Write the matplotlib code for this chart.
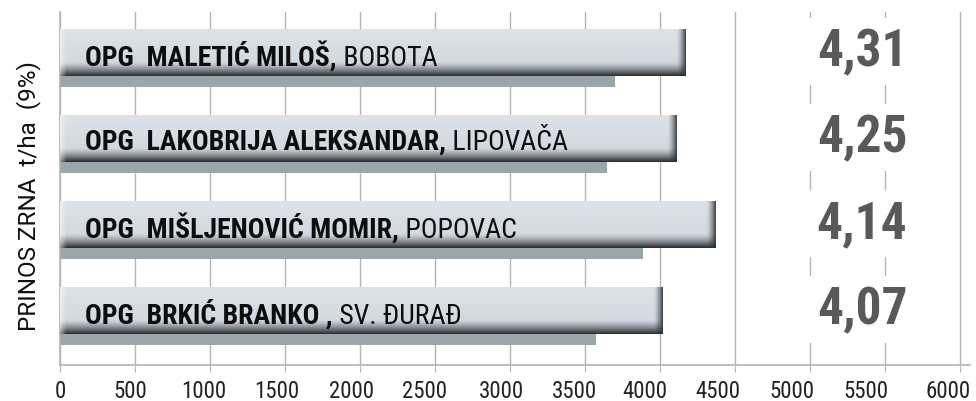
import numpy as np
import matplotlib.pyplot as plt
from matplotlib.colors import to_rgb

# podaci
farms_bold = ['OPG  MALETIĆ MILOŠ,', 'OPG  LAKOBRIJA ALEKSANDAR,',
              'OPG  MIŠLJENOVIĆ MOMIR,', 'OPG  BRKIĆ BRANKO ,']
places = ['BOBOTA', 'LIPOVAČA', 'POPOVAC', 'SV. ĐURAĐ']
main_vals = [4167, 4107, 4373, 4020]
second_vals = [3700, 3647, 3887, 3573]
yields = ['4,31', '4,25', '4,14', '4,07']
xticks = [0, 500, 1000, 1500, 2000, 2500, 3000, 3500, 4000, 4500, 5000, 5500, 6000]

FONT = ['Roboto Condensed', 'Fira Sans Condensed', 'Liberation Sans', 'DejaVu Sans']
plt.rcParams['font.family'] = FONT

GRID = '#b4b4b4'
LIGHT = np.array(to_rgb('#dde3e8'))
MID = np.array(to_rgb('#d2d9df'))
DARK = np.array(to_rgb('#2c3033'))
SECOND = '#9aa7aa'
# pomak oznaka na x osi (px), kao u originalu
TICK_SHIFT = [0, -5, -6, -8, -8, -10, -9, -11, -15, -17, -18, -19, -12]


def bar_image(v, nx=600, ny=60):
    # vertikalni gradijent (svijetlo gore, tamno dolje)
    t = np.linspace(0, 1, ny)[:, None]
    col = LIGHT + (MID - LIGHT) * np.clip(t / 0.7, 0, 1)
    dark_amt = np.clip((t - 0.7) / 0.3, 0, 1) ** 1.3
    col = col * (1 - dark_amt) + DARK * dark_amt
    img = np.repeat(col[:, None, :], nx, axis=1).reshape(ny, nx, 3)
    # desni rub tamniji
    x = np.linspace(0, v, nx)
    px_right = (v - x) * 0.15
    r = np.clip((9 - px_right) / 9, 0, 1)[None, :, None] ** 1.5
    img = img * (1 - r * 0.85) + DARK * r * 0.85
    # lijevi rub malo svjetliji
    l = np.clip((6 - x * 0.15) / 6, 0, 1)[None, :, None]
    img = img * (1 - l * 0.5) + 1.0 * l * 0.5
    return np.clip(img, 0, 1)


fig = plt.figure(figsize=(9.76, 4.02), dpi=100)
ax = fig.add_axes([60 / 976, 36 / 402, 910 / 976, 353 / 402])

ax.set_xlim(0, 6067)
ax.set_ylim(3.564, -0.54)

main_off, main_h = -0.064, 0.535
sec_off, sec_h = 0.267, 0.128

for i in range(len(main_vals)):
    yc = i + main_off
    # sekundarna traka
    ax.barh(i + sec_off, second_vals[i], height=sec_h, color=SECOND, zorder=2)
    # glavna traka s gradijentom
    ax.imshow(bar_image(main_vals[i]), extent=(0, main_vals[i], yc + main_h / 2, yc - main_h / 2),
              aspect='auto', interpolation='bilinear', zorder=3)
    t = ax.text(170, yc + 0.03, farms_bold[i], fontsize=20, fontweight='bold',
                color='#0d0d0d', va='center', ha='left', zorder=4)
    ax.annotate(' ' + places[i], xy=(1, 0), xycoords=t, va='bottom', ha='left',
                fontsize=20, color='#0d0d0d', zorder=4)
    ax.text(5347, i - 0.08, yields[i], fontsize=37, fontweight='bold', color='#58595b',
            ha='center', va='center', zorder=5,
            bbox=dict(facecolor='white', edgecolor='none', pad=6))

# x oznake crtane rucno da se mogu pomaknuti kao u originalu
ax.set_xticks(xticks)
ax.set_xticklabels([])
for v, dx in zip(xticks, TICK_SHIFT):
    ax.annotate(str(v), xy=(v, 0), xycoords=ax.get_xaxis_transform(),
                xytext=(dx * 0.72, -10), textcoords='offset points',
                ha='center', va='top', fontsize=16.5, color='#222222', annotation_clip=False)
ax.set_yticks([])
ax.grid(axis='x', color=GRID, linewidth=1, zorder=0)
ax.set_axisbelow(True)
ax.tick_params(axis='x', length=5, color=GRID)
for s in ['top', 'right']:
    ax.spines[s].set_visible(False)
for s in ['left', 'bottom']:
    ax.spines[s].set_color(GRID)
    ax.spines[s].set_linewidth(1.2)

ax.set_ylabel('PRINOS ZRNA  t/ha  (9%)', fontsize=17.5, color='#111111',
              family=['Roboto', 'DejaVu Sans'])
ax.yaxis.set_label_coords(-0.021, 0.48)

fig.savefig('out.png', dpi=100)
